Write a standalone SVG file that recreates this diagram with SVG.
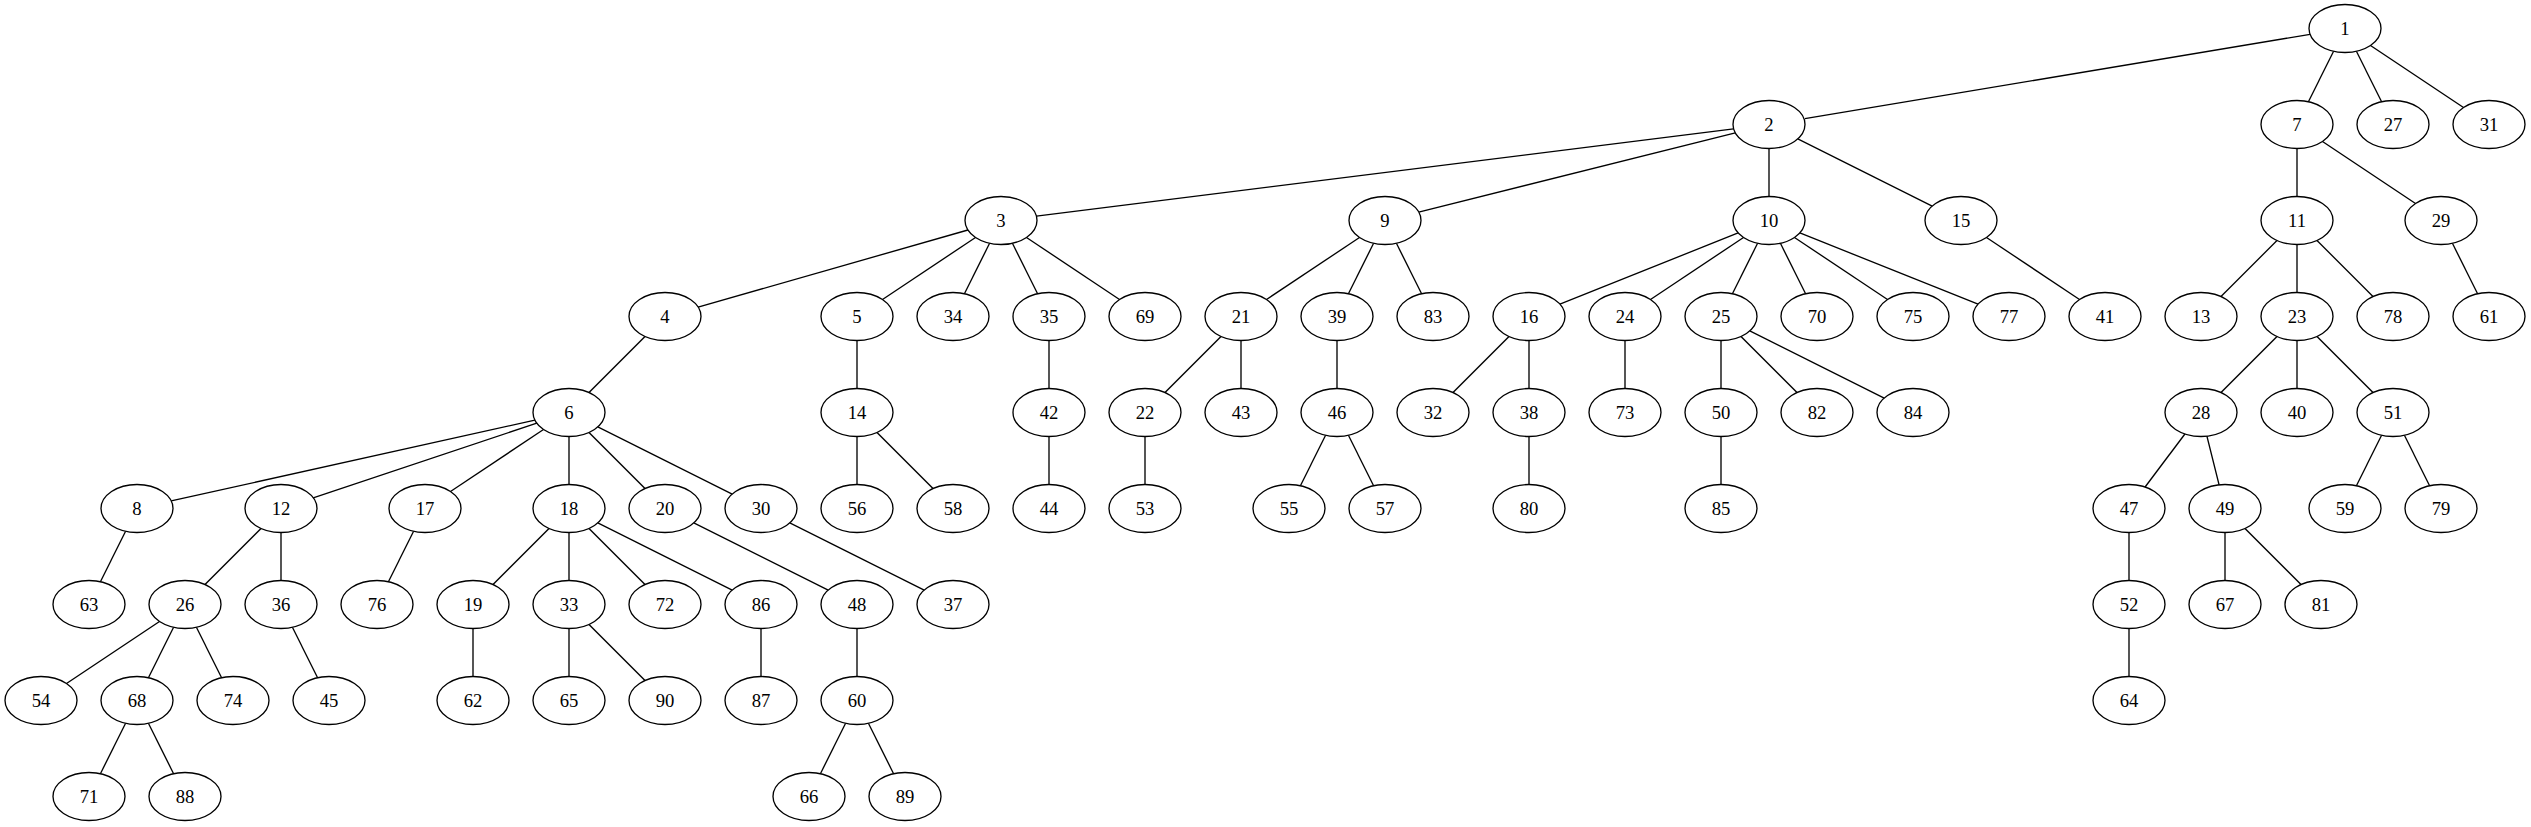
<svg xmlns="http://www.w3.org/2000/svg" width="2531" height="827" viewBox="0 0 2531 827">
<style>
.node ellipse{fill:#fff;stroke:#000;stroke-width:1.33}
.node text{font-family:"Liberation Serif","Times New Roman",serif;font-size:18.67px;text-anchor:middle;fill:#000}
#edges line{stroke:#000;stroke-width:1.33;fill:none}
</style>
<rect width="2531" height="827" fill="#fff"/>
<g id="edges">
<line x1="2310.1" y1="34.3" x2="1804.9" y2="118.7"/>
<line x1="2333.6" y1="51.3" x2="2308.4" y2="101.7"/>
<line x1="2356.4" y1="51.3" x2="2381.6" y2="101.7"/>
<line x1="2370.5" y1="45.5" x2="2463.5" y2="107.5"/>
<line x1="1733.6" y1="128.9" x2="1036.4" y2="216.1"/>
<line x1="1735.3" y1="132.9" x2="1418.7" y2="212.1"/>
<line x1="1769" y1="148.5" x2="1769" y2="196.5"/>
<line x1="1797.8" y1="138.9" x2="1932.2" y2="206.1"/>
<line x1="2297" y1="148.5" x2="2297" y2="196.5"/>
<line x1="2322.5" y1="141.5" x2="2415.5" y2="203.5"/>
<line x1="967.9" y1="230" x2="698.1" y2="307.1"/>
<line x1="975.5" y1="237.5" x2="882.5" y2="299.5"/>
<line x1="989.6" y1="243.3" x2="964.4" y2="293.7"/>
<line x1="1012.4" y1="243.3" x2="1037.6" y2="293.7"/>
<line x1="1026.5" y1="237.5" x2="1119.5" y2="299.5"/>
<line x1="1359.5" y1="237.5" x2="1266.5" y2="299.5"/>
<line x1="1373.6" y1="243.3" x2="1348.4" y2="293.7"/>
<line x1="1396.4" y1="243.3" x2="1421.6" y2="293.7"/>
<line x1="1738.1" y1="232.9" x2="1559.9" y2="304.2"/>
<line x1="1743.5" y1="237.5" x2="1650.5" y2="299.5"/>
<line x1="1757.6" y1="243.3" x2="1732.4" y2="293.7"/>
<line x1="1780.4" y1="243.3" x2="1805.6" y2="293.7"/>
<line x1="1794.5" y1="237.5" x2="1887.5" y2="299.5"/>
<line x1="1799.9" y1="232.9" x2="1978.1" y2="304.2"/>
<line x1="1986.5" y1="237.5" x2="2079.5" y2="299.5"/>
<line x1="2277" y1="240.5" x2="2221" y2="296.5"/>
<line x1="2297" y1="244.5" x2="2297" y2="292.5"/>
<line x1="2317" y1="240.5" x2="2373" y2="296.5"/>
<line x1="2452.4" y1="243.3" x2="2477.6" y2="293.7"/>
<line x1="645" y1="336.5" x2="589" y2="392.5"/>
<line x1="857" y1="340.5" x2="857" y2="388.5"/>
<line x1="1049" y1="340.5" x2="1049" y2="388.5"/>
<line x1="1221" y1="336.5" x2="1165" y2="392.5"/>
<line x1="1241" y1="340.5" x2="1241" y2="388.5"/>
<line x1="1337" y1="340.5" x2="1337" y2="388.5"/>
<line x1="1509" y1="336.5" x2="1453" y2="392.5"/>
<line x1="1529" y1="340.5" x2="1529" y2="388.5"/>
<line x1="1625" y1="340.5" x2="1625" y2="388.5"/>
<line x1="1721" y1="340.5" x2="1721" y2="388.5"/>
<line x1="1741" y1="336.5" x2="1797" y2="392.5"/>
<line x1="1749.8" y1="330.9" x2="1884.2" y2="398.1"/>
<line x1="2277" y1="336.5" x2="2221" y2="392.5"/>
<line x1="2297" y1="340.5" x2="2297" y2="388.5"/>
<line x1="2317" y1="336.5" x2="2373" y2="392.5"/>
<line x1="534.9" y1="420.1" x2="171.2" y2="500.9"/>
<line x1="536.8" y1="423.2" x2="313.2" y2="497.8"/>
<line x1="543.5" y1="429.5" x2="450.5" y2="491.5"/>
<line x1="569" y1="436.5" x2="569" y2="484.5"/>
<line x1="589" y1="432.5" x2="645" y2="488.5"/>
<line x1="597.8" y1="426.9" x2="732.2" y2="494.1"/>
<line x1="857" y1="436.5" x2="857" y2="484.5"/>
<line x1="877" y1="432.5" x2="933" y2="488.5"/>
<line x1="1049" y1="436.5" x2="1049" y2="484.5"/>
<line x1="1145" y1="436.5" x2="1145" y2="484.5"/>
<line x1="1325.6" y1="435.3" x2="1300.4" y2="485.7"/>
<line x1="1348.4" y1="435.3" x2="1373.6" y2="485.7"/>
<line x1="1529" y1="436.5" x2="1529" y2="484.5"/>
<line x1="1721" y1="436.5" x2="1721" y2="484.5"/>
<line x1="2184.9" y1="434" x2="2145.1" y2="487"/>
<line x1="2206.9" y1="436.2" x2="2219.1" y2="484.8"/>
<line x1="2381.6" y1="435.3" x2="2356.4" y2="485.7"/>
<line x1="2404.4" y1="435.3" x2="2429.6" y2="485.7"/>
<line x1="125.6" y1="531.3" x2="100.4" y2="581.7"/>
<line x1="261" y1="528.5" x2="205" y2="584.5"/>
<line x1="281" y1="532.5" x2="281" y2="580.5"/>
<line x1="413.6" y1="531.3" x2="388.4" y2="581.7"/>
<line x1="549" y1="528.5" x2="493" y2="584.5"/>
<line x1="569" y1="532.5" x2="569" y2="580.5"/>
<line x1="589" y1="528.5" x2="645" y2="584.5"/>
<line x1="597.8" y1="522.9" x2="732.2" y2="590.1"/>
<line x1="693.8" y1="522.9" x2="828.2" y2="590.1"/>
<line x1="789.8" y1="522.9" x2="924.2" y2="590.1"/>
<line x1="2129" y1="532.5" x2="2129" y2="580.5"/>
<line x1="2225" y1="532.5" x2="2225" y2="580.5"/>
<line x1="2245" y1="528.5" x2="2301" y2="584.5"/>
<line x1="159.5" y1="621.5" x2="66.5" y2="683.5"/>
<line x1="173.6" y1="627.3" x2="148.4" y2="677.7"/>
<line x1="196.4" y1="627.3" x2="221.6" y2="677.7"/>
<line x1="292.4" y1="627.3" x2="317.6" y2="677.7"/>
<line x1="473" y1="628.5" x2="473" y2="676.5"/>
<line x1="569" y1="628.5" x2="569" y2="676.5"/>
<line x1="589" y1="624.5" x2="645" y2="680.5"/>
<line x1="761" y1="628.5" x2="761" y2="676.5"/>
<line x1="857" y1="628.5" x2="857" y2="676.5"/>
<line x1="2129" y1="628.5" x2="2129" y2="676.5"/>
<line x1="125.6" y1="723.3" x2="100.4" y2="773.7"/>
<line x1="148.4" y1="723.3" x2="173.6" y2="773.7"/>
<line x1="845.6" y1="723.3" x2="820.4" y2="773.7"/>
<line x1="868.4" y1="723.3" x2="893.6" y2="773.7"/>
</g>
<g id="node1" class="node"><ellipse cx="2345" cy="28.5" rx="36" ry="24"/><text x="2345" y="34.5">1</text></g>
<g id="node2" class="node"><ellipse cx="1769" cy="124.5" rx="36" ry="24"/><text x="1769" y="130.5">2</text></g>
<g id="node7" class="node"><ellipse cx="2297" cy="124.5" rx="36" ry="24"/><text x="2297" y="130.5">7</text></g>
<g id="node27" class="node"><ellipse cx="2393" cy="124.5" rx="36" ry="24"/><text x="2393" y="130.5">27</text></g>
<g id="node31" class="node"><ellipse cx="2489" cy="124.5" rx="36" ry="24"/><text x="2489" y="130.5">31</text></g>
<g id="node3" class="node"><ellipse cx="1001" cy="220.5" rx="36" ry="24"/><text x="1001" y="226.5">3</text></g>
<g id="node9" class="node"><ellipse cx="1385" cy="220.5" rx="36" ry="24"/><text x="1385" y="226.5">9</text></g>
<g id="node10" class="node"><ellipse cx="1769" cy="220.5" rx="36" ry="24"/><text x="1769" y="226.5">10</text></g>
<g id="node15" class="node"><ellipse cx="1961" cy="220.5" rx="36" ry="24"/><text x="1961" y="226.5">15</text></g>
<g id="node11" class="node"><ellipse cx="2297" cy="220.5" rx="36" ry="24"/><text x="2297" y="226.5">11</text></g>
<g id="node29" class="node"><ellipse cx="2441" cy="220.5" rx="36" ry="24"/><text x="2441" y="226.5">29</text></g>
<g id="node4" class="node"><ellipse cx="665" cy="316.5" rx="36" ry="24"/><text x="665" y="322.5">4</text></g>
<g id="node5" class="node"><ellipse cx="857" cy="316.5" rx="36" ry="24"/><text x="857" y="322.5">5</text></g>
<g id="node34" class="node"><ellipse cx="953" cy="316.5" rx="36" ry="24"/><text x="953" y="322.5">34</text></g>
<g id="node35" class="node"><ellipse cx="1049" cy="316.5" rx="36" ry="24"/><text x="1049" y="322.5">35</text></g>
<g id="node69" class="node"><ellipse cx="1145" cy="316.5" rx="36" ry="24"/><text x="1145" y="322.5">69</text></g>
<g id="node21" class="node"><ellipse cx="1241" cy="316.5" rx="36" ry="24"/><text x="1241" y="322.5">21</text></g>
<g id="node39" class="node"><ellipse cx="1337" cy="316.5" rx="36" ry="24"/><text x="1337" y="322.5">39</text></g>
<g id="node83" class="node"><ellipse cx="1433" cy="316.5" rx="36" ry="24"/><text x="1433" y="322.5">83</text></g>
<g id="node16" class="node"><ellipse cx="1529" cy="316.5" rx="36" ry="24"/><text x="1529" y="322.5">16</text></g>
<g id="node24" class="node"><ellipse cx="1625" cy="316.5" rx="36" ry="24"/><text x="1625" y="322.5">24</text></g>
<g id="node25" class="node"><ellipse cx="1721" cy="316.5" rx="36" ry="24"/><text x="1721" y="322.5">25</text></g>
<g id="node70" class="node"><ellipse cx="1817" cy="316.5" rx="36" ry="24"/><text x="1817" y="322.5">70</text></g>
<g id="node75" class="node"><ellipse cx="1913" cy="316.5" rx="36" ry="24"/><text x="1913" y="322.5">75</text></g>
<g id="node77" class="node"><ellipse cx="2009" cy="316.5" rx="36" ry="24"/><text x="2009" y="322.5">77</text></g>
<g id="node41" class="node"><ellipse cx="2105" cy="316.5" rx="36" ry="24"/><text x="2105" y="322.5">41</text></g>
<g id="node13" class="node"><ellipse cx="2201" cy="316.5" rx="36" ry="24"/><text x="2201" y="322.5">13</text></g>
<g id="node23" class="node"><ellipse cx="2297" cy="316.5" rx="36" ry="24"/><text x="2297" y="322.5">23</text></g>
<g id="node78" class="node"><ellipse cx="2393" cy="316.5" rx="36" ry="24"/><text x="2393" y="322.5">78</text></g>
<g id="node61" class="node"><ellipse cx="2489" cy="316.5" rx="36" ry="24"/><text x="2489" y="322.5">61</text></g>
<g id="node6" class="node"><ellipse cx="569" cy="412.5" rx="36" ry="24"/><text x="569" y="418.5">6</text></g>
<g id="node14" class="node"><ellipse cx="857" cy="412.5" rx="36" ry="24"/><text x="857" y="418.5">14</text></g>
<g id="node42" class="node"><ellipse cx="1049" cy="412.5" rx="36" ry="24"/><text x="1049" y="418.5">42</text></g>
<g id="node22" class="node"><ellipse cx="1145" cy="412.5" rx="36" ry="24"/><text x="1145" y="418.5">22</text></g>
<g id="node43" class="node"><ellipse cx="1241" cy="412.5" rx="36" ry="24"/><text x="1241" y="418.5">43</text></g>
<g id="node46" class="node"><ellipse cx="1337" cy="412.5" rx="36" ry="24"/><text x="1337" y="418.5">46</text></g>
<g id="node32" class="node"><ellipse cx="1433" cy="412.5" rx="36" ry="24"/><text x="1433" y="418.5">32</text></g>
<g id="node38" class="node"><ellipse cx="1529" cy="412.5" rx="36" ry="24"/><text x="1529" y="418.5">38</text></g>
<g id="node73" class="node"><ellipse cx="1625" cy="412.5" rx="36" ry="24"/><text x="1625" y="418.5">73</text></g>
<g id="node50" class="node"><ellipse cx="1721" cy="412.5" rx="36" ry="24"/><text x="1721" y="418.5">50</text></g>
<g id="node82" class="node"><ellipse cx="1817" cy="412.5" rx="36" ry="24"/><text x="1817" y="418.5">82</text></g>
<g id="node84" class="node"><ellipse cx="1913" cy="412.5" rx="36" ry="24"/><text x="1913" y="418.5">84</text></g>
<g id="node28" class="node"><ellipse cx="2201" cy="412.5" rx="36" ry="24"/><text x="2201" y="418.5">28</text></g>
<g id="node40" class="node"><ellipse cx="2297" cy="412.5" rx="36" ry="24"/><text x="2297" y="418.5">40</text></g>
<g id="node51" class="node"><ellipse cx="2393" cy="412.5" rx="36" ry="24"/><text x="2393" y="418.5">51</text></g>
<g id="node8" class="node"><ellipse cx="137" cy="508.5" rx="36" ry="24"/><text x="137" y="514.5">8</text></g>
<g id="node12" class="node"><ellipse cx="281" cy="508.5" rx="36" ry="24"/><text x="281" y="514.5">12</text></g>
<g id="node17" class="node"><ellipse cx="425" cy="508.5" rx="36" ry="24"/><text x="425" y="514.5">17</text></g>
<g id="node18" class="node"><ellipse cx="569" cy="508.5" rx="36" ry="24"/><text x="569" y="514.5">18</text></g>
<g id="node20" class="node"><ellipse cx="665" cy="508.5" rx="36" ry="24"/><text x="665" y="514.5">20</text></g>
<g id="node30" class="node"><ellipse cx="761" cy="508.5" rx="36" ry="24"/><text x="761" y="514.5">30</text></g>
<g id="node56" class="node"><ellipse cx="857" cy="508.5" rx="36" ry="24"/><text x="857" y="514.5">56</text></g>
<g id="node58" class="node"><ellipse cx="953" cy="508.5" rx="36" ry="24"/><text x="953" y="514.5">58</text></g>
<g id="node44" class="node"><ellipse cx="1049" cy="508.5" rx="36" ry="24"/><text x="1049" y="514.5">44</text></g>
<g id="node53" class="node"><ellipse cx="1145" cy="508.5" rx="36" ry="24"/><text x="1145" y="514.5">53</text></g>
<g id="node55" class="node"><ellipse cx="1289" cy="508.5" rx="36" ry="24"/><text x="1289" y="514.5">55</text></g>
<g id="node57" class="node"><ellipse cx="1385" cy="508.5" rx="36" ry="24"/><text x="1385" y="514.5">57</text></g>
<g id="node80" class="node"><ellipse cx="1529" cy="508.5" rx="36" ry="24"/><text x="1529" y="514.5">80</text></g>
<g id="node85" class="node"><ellipse cx="1721" cy="508.5" rx="36" ry="24"/><text x="1721" y="514.5">85</text></g>
<g id="node47" class="node"><ellipse cx="2129" cy="508.5" rx="36" ry="24"/><text x="2129" y="514.5">47</text></g>
<g id="node49" class="node"><ellipse cx="2225" cy="508.5" rx="36" ry="24"/><text x="2225" y="514.5">49</text></g>
<g id="node59" class="node"><ellipse cx="2345" cy="508.5" rx="36" ry="24"/><text x="2345" y="514.5">59</text></g>
<g id="node79" class="node"><ellipse cx="2441" cy="508.5" rx="36" ry="24"/><text x="2441" y="514.5">79</text></g>
<g id="node63" class="node"><ellipse cx="89" cy="604.5" rx="36" ry="24"/><text x="89" y="610.5">63</text></g>
<g id="node26" class="node"><ellipse cx="185" cy="604.5" rx="36" ry="24"/><text x="185" y="610.5">26</text></g>
<g id="node36" class="node"><ellipse cx="281" cy="604.5" rx="36" ry="24"/><text x="281" y="610.5">36</text></g>
<g id="node76" class="node"><ellipse cx="377" cy="604.5" rx="36" ry="24"/><text x="377" y="610.5">76</text></g>
<g id="node19" class="node"><ellipse cx="473" cy="604.5" rx="36" ry="24"/><text x="473" y="610.5">19</text></g>
<g id="node33" class="node"><ellipse cx="569" cy="604.5" rx="36" ry="24"/><text x="569" y="610.5">33</text></g>
<g id="node72" class="node"><ellipse cx="665" cy="604.5" rx="36" ry="24"/><text x="665" y="610.5">72</text></g>
<g id="node86" class="node"><ellipse cx="761" cy="604.5" rx="36" ry="24"/><text x="761" y="610.5">86</text></g>
<g id="node48" class="node"><ellipse cx="857" cy="604.5" rx="36" ry="24"/><text x="857" y="610.5">48</text></g>
<g id="node37" class="node"><ellipse cx="953" cy="604.5" rx="36" ry="24"/><text x="953" y="610.5">37</text></g>
<g id="node52" class="node"><ellipse cx="2129" cy="604.5" rx="36" ry="24"/><text x="2129" y="610.5">52</text></g>
<g id="node67" class="node"><ellipse cx="2225" cy="604.5" rx="36" ry="24"/><text x="2225" y="610.5">67</text></g>
<g id="node81" class="node"><ellipse cx="2321" cy="604.5" rx="36" ry="24"/><text x="2321" y="610.5">81</text></g>
<g id="node54" class="node"><ellipse cx="41" cy="700.5" rx="36" ry="24"/><text x="41" y="706.5">54</text></g>
<g id="node68" class="node"><ellipse cx="137" cy="700.5" rx="36" ry="24"/><text x="137" y="706.5">68</text></g>
<g id="node74" class="node"><ellipse cx="233" cy="700.5" rx="36" ry="24"/><text x="233" y="706.5">74</text></g>
<g id="node45" class="node"><ellipse cx="329" cy="700.5" rx="36" ry="24"/><text x="329" y="706.5">45</text></g>
<g id="node62" class="node"><ellipse cx="473" cy="700.5" rx="36" ry="24"/><text x="473" y="706.5">62</text></g>
<g id="node65" class="node"><ellipse cx="569" cy="700.5" rx="36" ry="24"/><text x="569" y="706.5">65</text></g>
<g id="node90" class="node"><ellipse cx="665" cy="700.5" rx="36" ry="24"/><text x="665" y="706.5">90</text></g>
<g id="node87" class="node"><ellipse cx="761" cy="700.5" rx="36" ry="24"/><text x="761" y="706.5">87</text></g>
<g id="node60" class="node"><ellipse cx="857" cy="700.5" rx="36" ry="24"/><text x="857" y="706.5">60</text></g>
<g id="node64" class="node"><ellipse cx="2129" cy="700.5" rx="36" ry="24"/><text x="2129" y="706.5">64</text></g>
<g id="node71" class="node"><ellipse cx="89" cy="796.5" rx="36" ry="24"/><text x="89" y="802.5">71</text></g>
<g id="node88" class="node"><ellipse cx="185" cy="796.5" rx="36" ry="24"/><text x="185" y="802.5">88</text></g>
<g id="node66" class="node"><ellipse cx="809" cy="796.5" rx="36" ry="24"/><text x="809" y="802.5">66</text></g>
<g id="node89" class="node"><ellipse cx="905" cy="796.5" rx="36" ry="24"/><text x="905" y="802.5">89</text></g>
</svg>
